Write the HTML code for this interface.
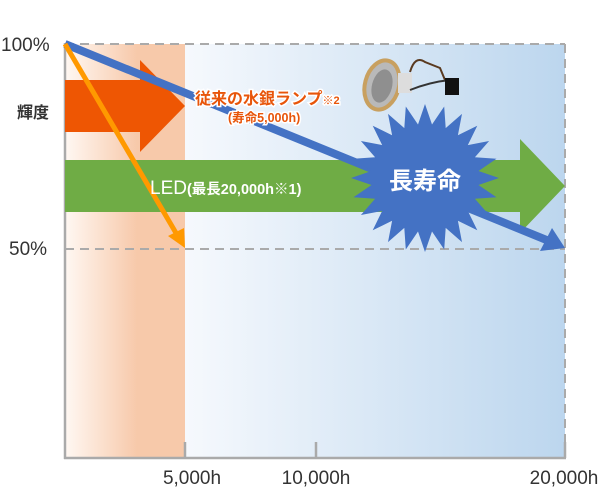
<!DOCTYPE html>
<html><head><meta charset="utf-8"><style>
html,body{margin:0;padding:0;background:#fff;}
svg{display:block;font-family:"Liberation Sans","Noto Sans CJK JP",sans-serif;}
</style></head><body>
<svg width="606" height="500" viewBox="0 0 606 500" xmlns="http://www.w3.org/2000/svg">
<defs>
<linearGradient id="og" x1="0" x2="1" y1="0" y2="0">
<stop offset="0" stop-color="#fff8f3"/><stop offset="0.6" stop-color="#f7c9aa"/><stop offset="1" stop-color="#f7c9aa"/></linearGradient>
<linearGradient id="bg" x1="0" x2="1" y1="0" y2="0">
<stop offset="0" stop-color="#f6f9fd"/><stop offset="1" stop-color="#bcd6ee"/></linearGradient>
</defs>
<rect x="65" y="44" width="120" height="414" fill="url(#og)"/>
<rect x="185" y="44" width="380" height="414" fill="url(#bg)"/>
<g stroke="#aaa" stroke-width="2" stroke-dasharray="9,6" fill="none">
<line x1="65" y1="44" x2="565" y2="44"/>
<line x1="65" y1="249" x2="565" y2="249"/>
<line x1="565" y1="44" x2="565" y2="458"/>
</g>
<g stroke="#aaa" stroke-width="2.5" fill="none">
<line x1="65" y1="43" x2="65" y2="459"/>
<line x1="64" y1="458" x2="566" y2="458"/>
<line x1="185" y1="442" x2="185" y2="458"/>
<line x1="316" y1="442" x2="316" y2="458"/>
<line x1="565" y1="442" x2="565" y2="458"/>
</g>
<polygon points="65,80 140,80 140,60 185,106 140,152 140,132 65,132" fill="#ee5603"/>
<polygon points="65,160 520,160 520,139 565,186 520,233 520,212 65,212" fill="#6fac45"/>
<line x1="65" y1="44" x2="549" y2="241" stroke="#4472c4" stroke-width="8"/>
<polygon points="565,248 540,251 552,228" fill="#4472c4"/>
<line x1="65" y1="44" x2="176" y2="233" stroke="#ff9900" stroke-width="5"/>
<polygon points="185,248 168,236 184,228" fill="#ff9900"/>
<polygon id="star" fill="#4472c4" points=""/>
<text x="425" y="189" text-anchor="middle" font-size="24" font-weight="bold" fill="#fff">長寿命</text>
<g>
<ellipse cx="382" cy="85" rx="17" ry="25" fill="#b9b9b9" stroke="#c8a060" stroke-width="4" transform="rotate(15 382 85)"/>
<ellipse cx="382" cy="86" rx="10" ry="17" fill="#8f8f8f" transform="rotate(15 382 86)"/>
<rect x="398" y="73" width="14" height="20" fill="#ddd"/>
<path d="M410 72 Q415 55 425 62 L440 68 L445 80" stroke="#5a3a20" stroke-width="2" fill="none"/>
<path d="M410 90 Q430 82 450 80" stroke="#333" stroke-width="2" fill="none"/>
<rect x="445" y="78" width="14" height="17" fill="#111"/>
</g>
<g font-weight="bold" stroke="#fff" stroke-width="3" paint-order="stroke" fill="#e8550a">
<text x="195" y="104" font-size="16">従来の水銀ランプ<tspan font-size="11">※2</tspan></text>
<text x="228" y="122" font-size="12.5">(寿命5,000h)</text>
</g>
<text x="150" y="194" fill="#fff" font-size="19">LED<tspan font-size="14.5" font-weight="bold">(最長20,000h※1)</tspan></text>
<g fill="#333" font-size="19">
<text x="1" y="51">100%</text>
<text x="9" y="255">50%</text>
<text x="17" y="118" font-weight="bold" font-size="16">輝度</text>
<text x="192" y="484" text-anchor="middle">5,000h</text>
<text x="316" y="484" text-anchor="middle">10,000h</text>
<text x="564" y="484" text-anchor="middle">20,000h</text>
</g>
</svg>
<script>
var cx=425,cy=178,R=74,r=54,n=24,p=[];
for(var i=0;i<2*n;i++){var a=Math.PI*i/n-Math.PI/2;var rr=i%2?r:R;p.push((cx+rr*Math.cos(a)).toFixed(1)+","+(cy+rr*Math.sin(a)).toFixed(1));}
document.getElementById("star").setAttribute("points",p.join(" "));
</script>
</body></html>
